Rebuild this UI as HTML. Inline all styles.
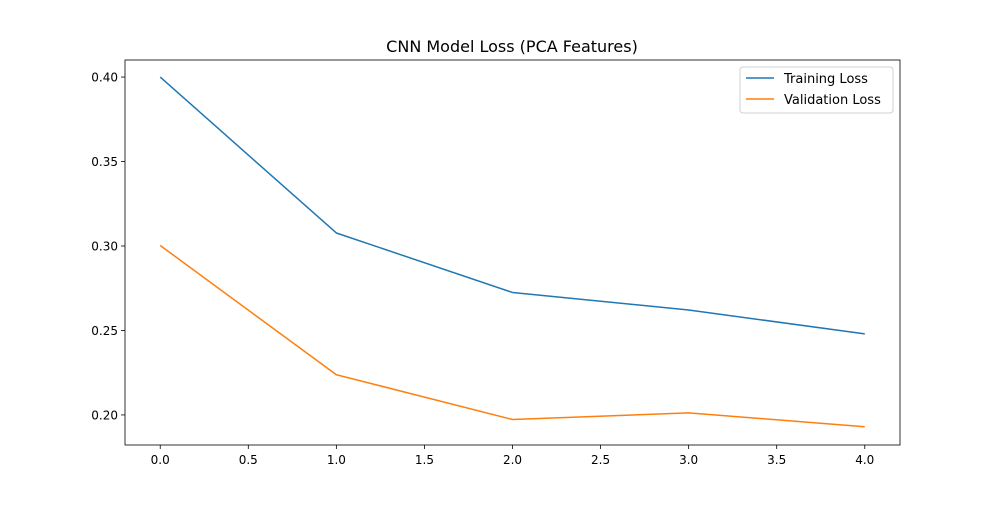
<!DOCTYPE html>
<html><head><meta charset="utf-8"><style>
body{margin:0;background:#fff;}
svg text{font-family:"DejaVu Sans","Liberation Sans",sans-serif;}
</style></head><body>
<svg id="chart" width="1000" height="500" xmlns="http://www.w3.org/2000/svg"></svg>
<script>
const epochs=[0,1,2,3,4];
const trainLoss=[0.400,0.3077,0.2725,0.2621,0.2480];
const valLoss=[0.3003,0.2238,0.1973,0.2012,0.1930];
const xTicks=[0,0.5,1,1.5,2,2.5,3,3.5,4];
const xTickLabels=["0.0","0.5","1.0","1.5","2.0","2.5","3.0","3.5","4.0"];
const yTicks=[0.20,0.25,0.30,0.35,0.40];
const yTickLabels=["0.20","0.25","0.30","0.35","0.40"];

const svg=document.getElementById('chart');
const NS='http://www.w3.org/2000/svg';
const L=125,R=900,T=60,B=445;
const xMin=-0.2,xMax=4.2,yMin=0.1822,yMax=0.4101;
const xs=v=>L+(v-xMin)/(xMax-xMin)*(R-L);
const ys=v=>B-(v-yMin)/(yMax-yMin)*(B-T);
function mk(tag,attrs,txt){const e=document.createElementNS(NS,tag);for(const k in attrs)e.setAttribute(k,attrs[k]);if(txt!==undefined)e.textContent=txt;svg.appendChild(e);return e;}

let e=mk('text',{x:512,y:52,'text-anchor':'middle','font-size':16,fill:'#000'},'CNN Model Loss (PCA Features)');



xTicks.forEach((t,i)=>{
  const x=xs(t);
  let l=mk('line',{x1:x,x2:x,y1:B,y2:B+4,stroke:'#000','stroke-width':0.8});
  
  
  let tx=mk('text',{x:x,y:B+19,'text-anchor':'middle','font-size':12,fill:'#000'},xTickLabels[i]);
  
  
});
yTicks.forEach((t,i)=>{
  const y=ys(t);
  let l=mk('line',{x1:L-4,x2:L,y1:y,y2:y,stroke:'#000','stroke-width':0.8});
  
  
  let tx=mk('text',{x:L-7,y:y+4.5,'text-anchor':'end','font-size':12,fill:'#000'},yTickLabels[i]);
  
  
});

function series(vals,color,name){
  const pts=epochs.map((x,i)=>xs(x)+','+ys(vals[i])).join(' ');
  const p=mk('polyline',{points:pts,fill:'none',stroke:color,'stroke-width':1.5,'stroke-linejoin':'round'});
  
  
}
series(trainLoss,'#1f77b4','training-loss-line');
series(valLoss,'#ff7f0e','validation-loss-line');

e=mk('rect',{x:L,y:T,width:R-L,height:B-T,fill:'none',stroke:'#000','stroke-width':0.8});



e=mk('rect',{x:740,y:67,width:153,height:46,rx:3,fill:'#fff',stroke:'#ccc','stroke-width':1,opacity:0.9});


e=mk('line',{x1:746,x2:774,y1:78,y2:78,stroke:'#1f77b4','stroke-width':1.5});


e=mk('text',{x:784,y:83,'font-size':13,fill:'#000'},'Training Loss');


e=mk('line',{x1:746,x2:774,y1:99,y2:99,stroke:'#ff7f0e','stroke-width':1.5});


e=mk('text',{x:784,y:104,'font-size':13,fill:'#000'},'Validation Loss');


</script>
</body></html>
